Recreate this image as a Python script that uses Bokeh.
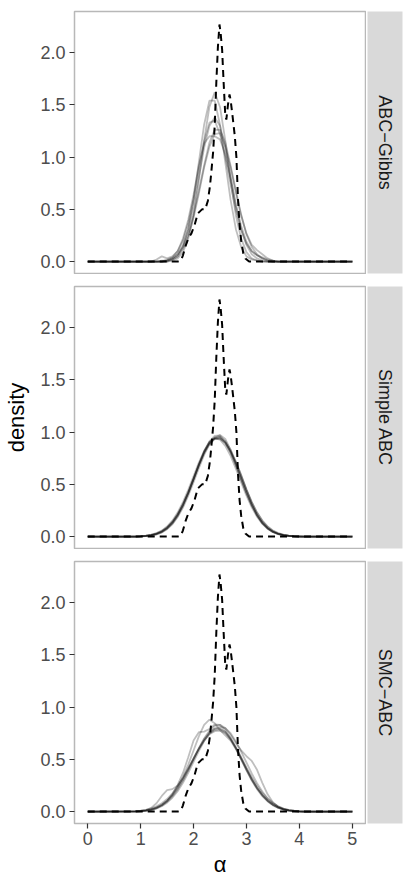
import math
from bokeh.plotting import figure
from bokeh.layouts import column, row
from bokeh.models import Range1d, FixedTicker, Label
from bokeh.embed import file_html
from bokeh.resources import INLINE

FACETS = ["ABC\u2212Gibbs", "Simple ABC", "SMC\u2212ABC"]
X_TICKS = [0, 1, 2, 3, 4, 5]
X_TICK_LABELS = ["0", "1", "2", "3", "4", "5"]
Y_TICKS = [0.0, 0.5, 1.0, 1.5, 2.0]
Y_TICK_LABELS = ["0.0", "0.5", "1.0", "1.5", "2.0"]

ALPHA_GRID = [0.0, 0.9, 1.0, 1.1, 1.2, 1.3, 1.4, 1.5, 1.6, 1.7, 1.8, 1.9, 2.0, 2.1, 2.2,
              2.3, 2.4, 2.5, 2.6, 2.7, 2.8, 2.9, 3.0, 3.1, 3.2, 3.3, 3.4, 3.5, 3.6, 3.7,
              3.8, 3.9, 4.0, 4.1, 5.0]

GIBBS_1 = [0, 0, 0, 0, 0, 0, 0, 0, .01, .03, .09, .22, .44, .78, 1.16, 1.48, 1.62, 1.48, 1.16, .78, .44, .22, .09, .03, .01, 0, 0, 0, 0, 0, 0, 0, 0, 0, 0]
GIBBS_2 = [0, 0, 0, 0, 0, 0, 0, 0, .02, .05, .14, .31, .59, .95, 1.31, 1.54, 1.54, 1.31, .95, .59, .31, .14, .05, .02, .01, 0, 0, 0, 0, 0, 0, 0, 0, 0, 0]
GIBBS_3 = [0, 0, 0, 0, 0, 0, 0, .01, .03, .07, .16, .31, .53, .81, 1.09, 1.30, 1.38, 1.30, 1.09, .81, .53, .31, .16, .07, .03, .01, 0, 0, 0, 0, 0, 0, 0, 0, 0]
GIBBS_4 = [0, 0, 0, 0, 0, 0, 0, .01, .03, .07, .14, .26, .45, .68, .92, 1.14, 1.26, 1.26, 1.14, .92, .68, .45, .26, .14, .07, .03, .01, 0, 0, 0, 0, 0, 0, 0, 0]
GIBBS_5 = [0, 0, 0, 0, 0, .02, .05, .03, .05, .10, .22, .40, .64, .92, 1.13, 1.20, 1.20, 1.17, 1.03, .80, .55, .34, .19, .10, .06, .03, .01, 0, 0, 0, 0, 0, 0, 0, 0]
GIBBS_6 = [0, 0, 0, 0, 0, 0, 0, .02, .04, .10, .20, .37, .60, .89, 1.15, 1.33, 1.35, 1.22, 1.00, .74, .49, .30, .17, .10, .06, .04, .02, .01, 0, 0, 0, 0, 0, 0, 0]
GIBBS_7 = [0, 0, 0, 0, 0, 0, .01, .01, .02, .05, .12, .24, .42, .65, .90, 1.10, 1.22, 1.23, 1.10, .90, .66, .44, .27, .16, .11, .07, .03, .01, 0, 0, 0, 0, 0, 0, 0]

SIMPLE_1 = [0, 0, .003, .007, .014, .027, .048, .083, .135, .209, .305, .421, .552, .686, .807, .899, .949, .949, .899, .807, .686, .552, .421, .305, .209, .135, .083, .048, .027, .014, .007, .003, 0, 0, 0]
SIMPLE_2 = [0, 0, .004, .009, .018, .033, .057, .096, .152, .230, .330, .448, .578, .708, .821, .903, .940, .928, .869, .772, .650, .518, .391, .280, .190, .122, .074, .042, .023, .012, .006, .003, .001, 0, 0]
SIMPLE_3 = [0, 0, .002, .005, .011, .022, .041, .074, .124, .196, .292, .410, .545, .684, .812, .912, .965, .968, .905, .806, .681, .545, .413, .297, .202, .129, .078, .045, .024, .012, .006, .002, .001, 0, 0]
SIMPLE_4 = [0, 0, .003, .007, .014, .027, .048, .083, .135, .209, .305, .421, .552, .686, .805, .890, .935, .935, .895, .815, .715, .590, .450, .315, .205, .128, .078, .045, .025, .013, .006, .003, 0, 0, 0]
SIMPLE_5 = [0, 0, .002, .005, .011, .022, .040, .071, .118, .187, .278, .391, .520, .655, .782, .882, .941, .952, .914, .833, .718, .586, .453, .332, .230, .151, .094, .055, .031, .016, .008, .004, .002, 0, 0]
SIMPLE_6 = [0, .001, .004, .009, .017, .031, .054, .090, .143, .216, .310, .423, .550, .680, .797, .886, .936, .942, .900, .818, .704, .575, .446, .329, .230, .153, .097, .058, .033, .018, .009, .004, .002, 0, 0]
SIMPLE_7 = [0, 0, .002, .006, .012, .025, .046, .080, .131, .204, .300, .418, .552, .690, .815, .905, .945, .972, .935, .830, .695, .555, .420, .302, .206, .132, .080, .046, .025, .013, .006, .003, .001, 0, 0]

SMC_1 = [0, .003, .007, .013, .023, .040, .066, .104, .156, .224, .307, .403, .506, .606, .694, .760, .795, .795, .760, .694, .606, .506, .403, .307, .224, .156, .104, .066, .040, .023, .013, .007, .003, 0, 0]
SMC_2 = [0, 0, .004, .010, .020, .038, .065, .105, .160, .235, .330, .450, .585, .720, .830, .880, .845, .780, .730, .680, .600, .500, .400, .305, .225, .160, .105, .065, .038, .020, .010, .004, .001, 0, 0]
SMC_3 = [0, .002, .006, .015, .035, .080, .150, .205, .215, .250, .320, .410, .505, .600, .680, .745, .780, .790, .765, .705, .620, .520, .415, .315, .228, .158, .104, .065, .038, .021, .011, .005, .002, 0, 0]
SMC_4 = [0, .002, .005, .010, .019, .034, .058, .094, .145, .213, .297, .395, .500, .605, .700, .775, .820, .830, .800, .735, .660, .585, .530, .485, .400, .275, .165, .090, .045, .021, .009, .004, .001, 0, 0]
SMC_5 = [0, .002, .004, .009, .017, .030, .052, .085, .132, .195, .275, .370, .475, .580, .675, .750, .795, .810, .800, .750, .670, .575, .470, .365, .272, .192, .128, .082, .049, .028, .015, .008, .003, 0, 0]
SMC_6 = [0, .004, .009, .017, .030, .050, .080, .120, .175, .245, .325, .415, .510, .600, .680, .740, .770, .775, .750, .690, .610, .515, .420, .330, .248, .178, .122, .080, .050, .029, .016, .008, .004, .001, 0]
SMC_7 = [0, .001, .003, .007, .015, .030, .058, .100, .165, .255, .370, .520, .680, .760, .765, .790, .835, .830, .780, .700, .605, .500, .395, .298, .215, .148, .097, .060, .035, .019, .010, .005, .002, 0, 0]

TRUE_X = [0.0, 1.70, 1.76, 1.80, 1.85, 1.90, 1.96, 2.02, 2.08, 2.16, 2.22, 2.27, 2.31, 2.34,
          2.37, 2.40, 2.43, 2.46, 2.49, 2.51, 2.54, 2.57, 2.60, 2.62, 2.65, 2.68, 2.70, 2.74,
          2.78, 2.81, 2.84, 2.87, 2.90, 2.94, 2.98, 3.05, 5.0]
TRUE_Y = [0, 0, .01, .06, .15, .22, .27, .35, .46, .50, .50, .58, .72, .88, 1.05, 1.30, 1.71,
          2.05, 2.27, 2.20, 2.03, 1.70, 1.40, 1.36, 1.50, 1.60, 1.55, 1.38, 1.20, 1.00, .60,
          .35, .20, .08, .03, 0, 0]

RUNS = [
    [GIBBS_1, GIBBS_2, GIBBS_3, GIBBS_4, GIBBS_5, GIBBS_6, GIBBS_7],
    [SIMPLE_1, SIMPLE_2, SIMPLE_3, SIMPLE_4, SIMPLE_5, SIMPLE_6, SIMPLE_7],
    [SMC_1, SMC_2, SMC_3, SMC_4, SMC_5, SMC_6, SMC_7],
]

FONT = "Liberation Sans"
PANEL_W = 366
STRIP_W = 47
LEFT = 74
FRAME_H = 262
TOP = [11, 12, 12]
BOTTOM = [1, 1, 63]

rows = []
for i, name in enumerate(FACETS):
    h = TOP[i] + FRAME_H + BOTTOM[i]
    last = (i == len(FACETS) - 1)
    p = figure(width=PANEL_W, height=h, output_backend="svg", toolbar_location=None,
               x_range=Range1d(-0.25, 5.25), y_range=Range1d(-0.114, 2.394),
               x_axis_location="below" if last else None, y_axis_location="left",
               min_border_left=LEFT, min_border_right=1, min_border_top=TOP[i],
               min_border_bottom=BOTTOM[i])
    p.background_fill_color = "white"
    p.border_fill_color = "white"
    p.outline_line_color = "#B8B8B8"
    p.outline_line_width = 1.5
    p.grid.grid_line_color = None

    for curve in RUNS[i]:
        p.line(ALPHA_GRID, curve, line_color="black", line_alpha=0.25, line_width=1.8)
    p.line(TRUE_X, TRUE_Y, line_color="black", line_width=2, line_dash="7 5")

    ya = p.yaxis[0]
    ya.ticker = FixedTicker(ticks=Y_TICKS)
    ya.major_label_overrides = {t: l for t, l in zip(Y_TICKS, Y_TICK_LABELS)}
    ya.minor_tick_line_color = None
    ya.axis_line_color = None
    ya.major_tick_line_color = "#333333"
    ya.major_tick_line_width = 1.2
    ya.major_tick_out = 5
    ya.major_tick_in = 0
    ya.major_label_standoff = 4
    ya.major_label_text_font = FONT
    ya.major_label_text_font_size = "18px"
    ya.major_label_text_color = "#4D4D4D"
    if i == 1:
        ya.axis_label = "density"
        ya.axis_label_text_font = FONT
        ya.axis_label_text_font_size = "22px"
        ya.axis_label_text_font_style = "normal"
        ya.axis_label_text_color = "black"
        ya.axis_label_standoff = 8
    if last:
        xa = p.xaxis[0]
        xa.ticker = FixedTicker(ticks=X_TICKS)
        xa.major_label_overrides = {t: l for t, l in zip(X_TICKS, X_TICK_LABELS)}
        xa.minor_tick_line_color = None
        xa.axis_line_color = None
        xa.major_tick_line_color = "#333333"
        xa.major_tick_line_width = 1.2
        xa.major_tick_out = 5
        xa.major_tick_in = 0
        xa.major_label_standoff = 3
        xa.major_label_text_font = FONT
        xa.major_label_text_font_size = "18px"
        xa.major_label_text_color = "#4D4D4D"
        xa.axis_label = "\u03b1"
        xa.axis_label_text_font = FONT
        xa.axis_label_text_font_size = "22px"
        xa.axis_label_text_font_style = "normal"
        xa.axis_label_text_color = "black"
        xa.axis_label_standoff = 4

    s = figure(width=STRIP_W, height=h, output_backend="svg", toolbar_location=None,
               x_range=Range1d(0, 1), y_range=Range1d(0, 1),
               x_axis_location=None, y_axis_location=None,
               min_border_left=1, min_border_right=11, min_border_top=TOP[i],
               min_border_bottom=BOTTOM[i])
    s.background_fill_color = "#D9D9D9"
    s.border_fill_color = "white"
    s.outline_line_color = None
    s.grid.grid_line_color = None
    s.add_layout(Label(x=0.5, y=0.5, text=name, angle=-math.pi / 2,
                       text_align="center", text_baseline="middle",
                       text_font=FONT, text_font_size="18px", text_color="#1A1A1A"))
    rows.append(row(p, s))

layout = column(*rows)
open("out.html", "w").write(file_html(layout, INLINE))
